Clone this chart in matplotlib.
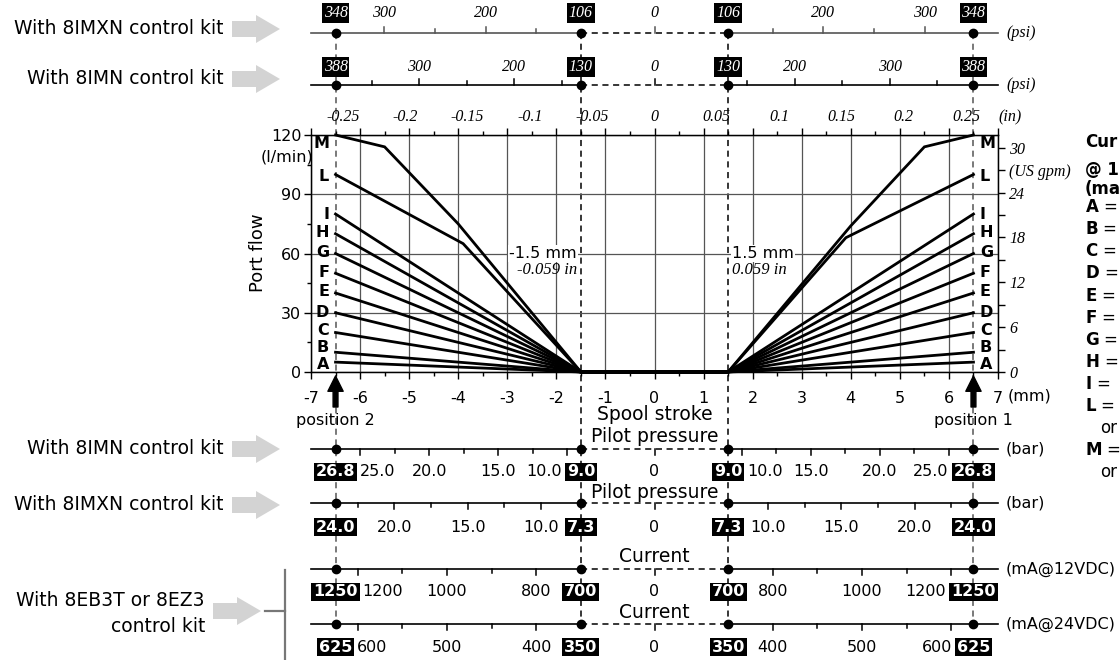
"""Port flow vs spool stroke with pilot pressure / current scales"""
import matplotlib.pyplot as plt
import numpy as np
from matplotlib.patches import Polygon

plt.rcParams['font.family'] = ['DejaVu Sans']
plt.rcParams['font.size'] = 11.5
plt.rcParams['axes.unicode_minus'] = False
plt.rcParams['mathtext.fontset'] = 'dejavusans'
SERIF = 'Liberation Serif'

# ---- data -------------------------------------------------------------
stroke_start = 1.5      # mm, flow begins
stroke_full = 6.5       # mm, position 1 / position 2

curve_names = ['A', 'B', 'C', 'D', 'E', 'F', 'G', 'H', 'I', 'L', 'M']
full_flow = [5, 10, 20, 30, 40, 50, 60, 70, 80, 100, 120]   # l/min at full stroke

# intermediate breakpoints (stroke mm, flow l/min)
L_stroke = [-3.9, 3.9]
L_flow = [65, 68]
M_stroke = [-5.5, -4.0, 4.0, 5.5]
M_flow = [114, 75, 74, 114]

inch_ticks = [-0.25, -0.2, -0.15, -0.1, -0.05, 0, 0.05, 0.1, 0.15, 0.2, 0.25]
gpm_ticks = [0, 3, 6, 9, 12, 15, 18, 21, 24, 27, 30]
gpm_labels = ['0', '', '6', '', '12', '', '18', '', '24', '(US gpm)', '30']

# psi scales (top)
psi_imxn_inner, psi_imxn_full = 106, 348
psi_imxn_ticks = [150, 200, 250, 300]
psi_imxn_labels = [200, 300]
psi_imn_inner, psi_imn_full = 130, 388
psi_imn_ticks = [150, 200, 250, 300, 350]
psi_imn_labels = [200, 300]

# bar scales (bottom)
bar_imn_inner, bar_imn_full = 9.0, 26.8
bar_imn_ticks = [10, 12.5, 15, 17.5, 20, 22.5, 25]
bar_imn_labels = [10, 15, 20, 25]
bar_imxn_inner, bar_imxn_full = 7.3, 24.0
bar_imxn_ticks = [10, 12.5, 15, 17.5, 20, 22.5]
bar_imxn_labels = [10, 15, 20]

# current scales (bottom)
ma12_inner, ma12_full = 700, 1250
ma12_ticks = [800, 900, 1000, 1100, 1200]
ma12_labels = [800, 1000, 1200]
ma24_inner, ma24_full = 350, 625
ma24_ticks = [400, 450, 500, 550, 600]
ma24_labels = [400, 500, 600]

# ---- layout -----------------------------------------------------------
W, H = 1120, 660
X0, X1 = 311, 998          # pixel span of -7 .. 7 mm
Y_TOP, Y_BOT = 135, 372    # pixel span of 120 .. 0 l/min


def sx(mm):
    return X0 + (mm + 7) * (X1 - X0) / 14.0


def to_mm(v, inner, full):
    return stroke_start + (v - inner) / (full - inner) * (stroke_full - stroke_start)


fig = plt.figure(figsize=(W / 100, H / 100), dpi=100)
ov = fig.add_axes([0, 0, 1, 1])
ov.set_xlim(0, W)
ov.set_ylim(H, 0)
ov.axis('off')

ax = fig.add_axes([X0 / W, 1 - Y_BOT / H, (X1 - X0) / W, (Y_BOT - Y_TOP) / H])
ax.set_facecolor('none')
ax.set_zorder(2)

# ---- main chart ---------------------------------------------------------
ax.set_xlim(-7, 7)
ax.set_ylim(0, 120)
ax.set_xticks(np.arange(-7, 8))
ax.set_xticks(np.arange(-7, 7.01, 0.5), minor=True)
ax.set_yticks([0, 30, 60, 90, 120])
ax.set_yticks([15, 45, 75, 105], minor=True)
ax.grid(True, which='major', color='#555555', lw=0.9)
ax.tick_params(which='major', direction='out', length=5, width=1, top=True,
               pad=9, labelsize=11.5)
ax.tick_params(axis='y', which='major', pad=2)
ax.tick_params(which='minor', direction='out', length=3, width=1, top=True)
for s in ax.spines.values():
    s.set_linewidth(1.0)

for name, v in zip(curve_names, full_flow):
    xs = [-stroke_full, -stroke_start, stroke_start, stroke_full]
    ys = [v, 0, 0, v]
    if name == 'L':
        xs = xs + L_stroke
        ys = ys + L_flow
    if name == 'M':
        xs = xs + M_stroke
        ys = ys + M_flow
    order = np.argsort(xs)
    ax.plot(np.array(xs)[order], np.array(ys)[order], color='black', lw=2.0,
            solid_joinstyle='miter', clip_on=False, zorder=3)

label_y = [4.0, 12.5, 21, 30, 41, 50.5, 60.5, 70.5, 79.5, 99, 115.5]
for name, ly in zip(curve_names, label_y):
    ax.text(-6.63, ly, name, ha='right', va='center', fontweight='bold', fontsize=11.5, zorder=4)
    ax.text(6.63, ly, name, ha='left', va='center', fontweight='bold', fontsize=11.5, zorder=4)

wb = dict(facecolor='white', edgecolor='none', pad=1)
ax.text(-1.58, 60, '-1.5 mm', ha='right', va='center', fontsize=11.5, bbox=wb, zorder=4)
ax.text(-1.58, 51.5, '-0.059 in', ha='right', va='center', fontsize=12,
        family=SERIF, style='italic', zorder=4)
ax.text(1.58, 60, '1.5 mm', ha='left', va='center', fontsize=11.5, bbox=wb, zorder=4)
ax.text(1.58, 51.5, '0.059 in', ha='left', va='center', fontsize=12,
        family=SERIF, style='italic', zorder=4)

ax2 = ax.twinx()
ax2.set_ylim(0, 120 / 3.785411784)
ax2.set_yticks(gpm_ticks)
ax2.set_yticklabels(gpm_labels, family=SERIF, style='italic', fontsize=11.5)
ax2.tick_params(direction='out', length=5, width=1, pad=3)

ov.text(258, 253, 'Port flow', rotation=90, ha='center', va='center', fontsize=13)
ov.text(287, 157, '(l/min)', ha='center', va='center', fontsize=11.5)
ov.text(1008, 396, '(mm)', ha='left', va='center', fontsize=11.5)

# inch scale above chart
for v in inch_ticks:
    txt = '0' if v == 0 else ('%g' % v)
    ov.text(sx(v * 25.4), 117, txt, ha='center', va='center', family=SERIF,
            style='italic', fontsize=11.5)
ov.text(998, 117, '(in)', ha='left', va='center', family=SERIF, style='italic', fontsize=11.5)

# ---- vertical guides ----------------------------------------------------
for m in (-stroke_full, stroke_full):
    ov.plot([sx(m), sx(m)], [33, 624], color='#555555', lw=1.1, ls=(0, (4, 3)), zorder=1)
for m in (-stroke_start, stroke_start):
    ov.plot([sx(m), sx(m)], [33, 624], color='black', lw=1.1, ls=(0, (4, 3)), zorder=1)

# position arrows
for m, lab in ((-stroke_full, 'position 2'), (stroke_full, 'position 1')):
    ov.annotate('', xy=(sx(m), 376), xytext=(sx(m), 407),
                arrowprops=dict(width=3.5, headwidth=11, headlength=11,
                                facecolor='black', edgecolor='black', shrink=0))
    ov.text(sx(m), 420, lab, ha='center', va='center', fontsize=11.5)

rows = []   # (labels, boxes) for later overlap fixing


# ---- auxiliary scales ---------------------------------------------------
def scale_row(y, y_lab, inner, full, ticks, labels, fmt, up, unit, serif,
              line_color='black'):
    ov.plot([sx(-7), sx(-stroke_start)], [y, y], color=line_color, lw=1.2, zorder=2)
    ov.plot([sx(-stroke_start), sx(stroke_start)], [y, y], color='black', lw=1.1,
            ls=(0, (4, 3)), zorder=2)
    ov.plot([sx(stroke_start), sx(7)], [y, y], color=line_color, lw=1.2, zorder=2)
    d = -1 if up else 1
    for v in ticks:
        ln = 6 if v in labels else 4
        for sgn in (-1, 1):
            xx = sx(sgn * to_mm(v, inner, full))
            ov.plot([xx, xx], [y, y + d * ln], color=line_color, lw=1.1, zorder=2)
    ov.plot([sx(0), sx(0)], [y, y + d * 6], color=line_color, lw=1.1, zorder=2)
    dots = [-stroke_full, -stroke_start, stroke_start, stroke_full]
    ov.plot([sx(m) for m in dots], [y] * 4, 'o', color='black', ms=6, zorder=3)

    tkw = dict(family=SERIF, style='italic') if serif else {}
    lab_txt = []
    for v in labels:
        for sgn in (-1, 1):
            xx = sx(sgn * to_mm(v, inner, full))
            lab_txt.append(ov.text(xx, y_lab, fmt.format(v), ha='center', va='center',
                                   fontsize=11.5, zorder=4, **tkw))
    ov.text(sx(0), y_lab, '0', ha='center', va='center', fontsize=11.5, zorder=4, **tkw)
    bkw = dict(family=SERIF, style='italic') if serif else dict(fontweight='bold')
    bb = dict(boxstyle='square,pad=0.12', facecolor='black', edgecolor='none')
    box_txt = []
    for m, val in ((-stroke_full, full), (-stroke_start, inner),
                   (stroke_start, inner), (stroke_full, full)):
        box_txt.append(ov.text(sx(m), y_lab, fmt.format(val), ha='center', va='center',
                               color='white', fontsize=11.5, bbox=bb, zorder=5, **bkw))
    ukw = dict(family=SERIF, style='italic') if serif else {}
    ov.text(1006, y, unit, ha='left', va='center', fontsize=11.5, **ukw)
    rows.append((lab_txt, box_txt))


scale_row(33, 13, psi_imxn_inner, psi_imxn_full, psi_imxn_ticks, psi_imxn_labels,
          '{:.0f}', True, '(psi)', True, line_color='#555555')
scale_row(85, 67, psi_imn_inner, psi_imn_full, psi_imn_ticks, psi_imn_labels,
          '{:.0f}', True, '(psi)', True)
scale_row(449, 472, bar_imn_inner, bar_imn_full, bar_imn_ticks, bar_imn_labels,
          '{:.1f}', False, '(bar)', False)
scale_row(503, 527, bar_imxn_inner, bar_imxn_full, bar_imxn_ticks, bar_imxn_labels,
          '{:.1f}', False, '(bar)', False)
scale_row(569, 592, ma12_inner, ma12_full, ma12_ticks, ma12_labels,
          '{:.0f}', False, '(mA@12VDC)', False)
scale_row(624, 647, ma24_inner, ma24_full, ma24_ticks, ma24_labels,
          '{:.0f}', False, '(mA@24VDC)', False)

ov.text(sx(0), 414, 'Spool stroke', ha='center', va='center', fontsize=13.5)
ov.text(sx(0), 437, 'Pilot pressure', ha='center', va='center', fontsize=13.5)
ov.text(sx(0), 492, 'Pilot pressure', ha='center', va='center', fontsize=13.5)
ov.text(sx(0), 557, 'Current', ha='center', va='center', fontsize=13.5)
ov.text(sx(0), 613, 'Current', ha='center', va='center', fontsize=13.5)


# ---- left-hand kit labels -----------------------------------------------
def gray_arrow(x0, yc):
    pts = [(x0, yc - 8), (x0 + 24, yc - 8), (x0 + 24, yc - 14), (x0 + 48, yc),
           (x0 + 24, yc + 14), (x0 + 24, yc + 8), (x0, yc + 8)]
    ov.add_patch(Polygon(pts, closed=True, facecolor='#d3d3d3', edgecolor='none'))


for txt, yc in (('With 8IMXN control kit', 29), ('With 8IMN control kit', 79),
                ('With 8IMN control kit', 449), ('With 8IMXN control kit', 505)):
    ov.text(224, yc, txt, ha='right', va='center', fontsize=13.5)
    gray_arrow(232, yc)

ov.text(205, 600, 'With 8EB3T or 8EZ3', ha='right', va='center', fontsize=13.5)
ov.text(205, 627, 'control kit', ha='right', va='center', fontsize=13.5)
gray_arrow(213, 611)
ov.plot([285, 285], [570, 660], color='#777777', lw=1.6)
ov.plot([265, 285], [611, 611], color='#777777', lw=1.6)

# ---- right-hand legend (cut off at the picture edge) -----------------------
ov.text(1085, 142, 'Cur', ha='left', va='center', fontweight='bold', fontsize=12)
ov.text(1085, 170, '@ 1', ha='left', va='center', fontweight='bold', fontsize=12)
ov.text(1085, 189, '(ma', ha='left', va='center', fontweight='bold', fontsize=12)
leg_y = [207, 229, 251, 273, 296, 318, 340, 362, 384, 406, 450]
for name, ly in zip(curve_names, leg_y):
    ov.text(1085, ly, r'$\mathbf{%s}$ =' % name, ha='left', va='center', fontsize=12)
for ly in (428, 472):
    ov.text(1100, ly, 'or', ha='left', va='center', fontsize=12)

# push scale labels clear of the black value boxes
fig.canvas.draw()
rend = fig.canvas.get_renderer()
for lab_txt, box_txt in rows:
    boxes = [b.get_bbox_patch().get_window_extent(rend) for b in box_txt]
    for t in lab_txt:
        e = t.get_window_extent(rend)
        for b in boxes:
            if e.x1 > b.x0 - 3 and e.x0 < b.x1 + 3:
                if (e.x0 + e.x1) / 2 > (b.x0 + b.x1) / 2:
                    t.set_ha('left')
                    t.set_x(b.x1 + 3)
                else:
                    t.set_ha('right')
                    t.set_x(b.x0 - 3)
                break

fig.savefig('out.png', dpi=100)
plt.close()
